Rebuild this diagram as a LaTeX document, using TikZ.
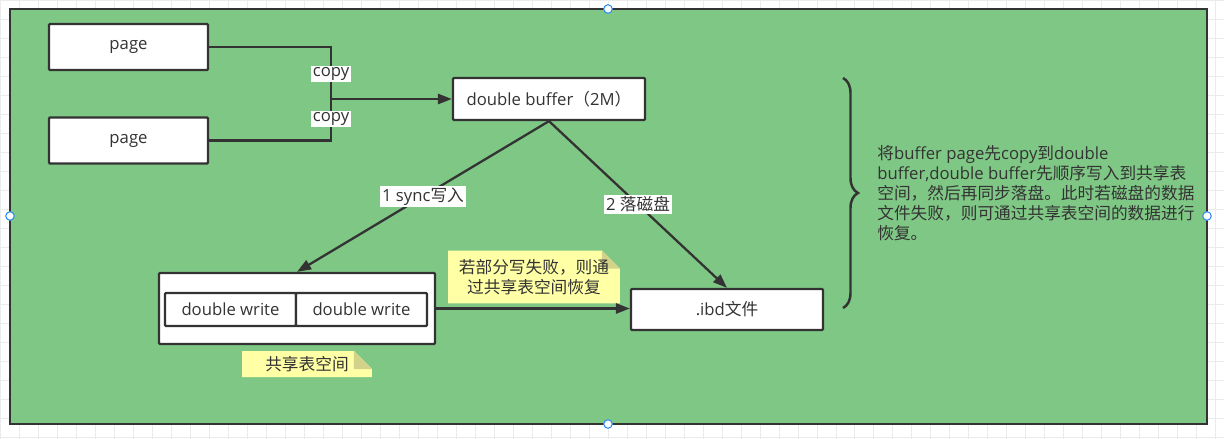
\documentclass[tikz,border=0pt]{standalone}
\usepackage{fontspec}
\setmainfont{Open Sans}
\newfontfamily\cjk{Noto Sans CJK SC}
\usetikzlibrary{arrows.meta,decorations.pathreplacing}
\definecolor{bggreen}{HTML}{7FC785}
\definecolor{ink}{HTML}{333333}
\definecolor{memoyellow}{HTML}{FFFFA6}
\definecolor{memofold}{HTML}{D2D28A}
\definecolor{gridgray}{HTML}{EBEBEB}
\definecolor{handleblue}{HTML}{2C8CF4}
\begin{document}
\begin{tikzpicture}[x=0.02cm, y=-0.02cm,
    box/.style={draw=ink, fill=white, line width=1.3pt, text=ink, inner sep=0pt,
        font=\fontsize{9.5}{12}\selectfont, rounded corners=0.6pt},
    lbl/.style={fill=white, text=ink, inner sep=1pt, font=\fontsize{9.5}{12}\selectfont},
    link/.style={draw=ink, line width=1.3pt},
    arr/.style={link, -{Triangle[length=8pt, width=5.8pt]}},
    handle/.style={draw=handleblue, fill=white, line width=0.6pt, circle, inner sep=0pt, minimum size=0.17cm},
    memo/.style={text=ink, align=center, inner sep=0pt, font=\cjk\fontsize{9.5}{11.3}\selectfont,
        path picture={
            \fill[memoyellow] (path picture bounding box.south west) -- (path picture bounding box.north west)
                -- ([xshift=-0.36cm]path picture bounding box.north east)
                -- ([yshift=-0.36cm]path picture bounding box.north east)
                -- (path picture bounding box.south east) -- cycle;
            \fill[memofold] ([xshift=-0.36cm]path picture bounding box.north east)
                -- ([yshift=-0.36cm]path picture bounding box.north east)
                -- ([xshift=-0.36cm, yshift=-0.36cm]path picture bounding box.north east) -- cycle;
        }}]
    \useasboundingbox (0,0) rectangle (1224,439);

    % canvas
    \draw[gridgray, step=0.38cm] (0,0) grid (1224,439);
    \draw[ink, fill=bggreen, line width=1.3pt] (10,9) rectangle (1207,424);

    % pages and buffer
    \node[box, minimum width=3.18cm, minimum height=0.92cm] (page1) at (128.5,47) {page};
    \node[box, minimum width=3.18cm, minimum height=0.92cm] (page2) at (128.5,140.5) {page};
    \node[box, minimum width=3.84cm, minimum height=0.84cm] (dbuf) at (549,99) {double buffer{\cjk（}2M{\cjk）}};
    \coordinate (join) at (331,99);

    % shared tablespace
    \node[box, minimum width=5.52cm, minimum height=1.42cm] (shared) at (297,308.5) {};
    \node[box, minimum width=2.62cm, minimum height=0.66cm] (dw1) at (230.5,309.5) {double write};
    \node[box, minimum width=2.62cm, minimum height=0.66cm] (dw2) at (361.5,309.5) {double write};
    \node[box, minimum width=3.84cm, minimum height=0.82cm] (ibd) at (727,309.5) {.ibd{\cjk 文件}};

    % notes
    \node[memo, minimum width=3.44cm, minimum height=1.06cm] (note1) at (534,277) {若部分写失败，则通\\过共享表空间恢复};
    \node[memo, minimum width=2.6cm, minimum height=0.52cm] (note2) at (307,364) {共享表空间};

    % connectors
    \draw[link] (page1.east) -| node[lbl, pos=0.76] {copy} (join);
    \draw[link] (page2.east) -| node[lbl, pos=0.76] {copy} (join);
    \draw[arr] (join) -- (dbuf.west);
    \draw[arr] (dbuf.south) -- node[lbl, pos=0.5] {1 sync{\cjk 写入}} (shared.north);
    \draw[arr] (dbuf.south) -- node[lbl, pos=0.5] {2 {\cjk 落磁盘}} (ibd.north);
    \draw[arr] (shared.east) -- (shared.east -| ibd.west);

    % brace and description
    \draw[ink, line width=1.4pt, decorate, decoration={brace, amplitude=0.3cm}] (843,78) -- (843,308);
    \node[anchor=west, align=left, text=ink, inner sep=0pt, font=\fontsize{9.5}{11.3}\selectfont] (desc) at (877,193)
        {{\cjk 将}buffer page{\cjk 先}copy{\cjk 到}double\\
         buffer,double buffer{\cjk 先顺序写入到共享表}\\
         {\cjk 空间，然后再同步落盘。此时若磁盘的数据}\\
         {\cjk 文件失败，则可通过共享表空间的数据进行}\\
         {\cjk 恢复。}};

    % selection handles
    \node[handle] (h1) at (608,9) {};
    \node[handle] (h2) at (10,216) {};
    \node[handle] (h3) at (1207,216) {};
    \node[handle] (h4) at (608,424) {};
\end{tikzpicture}
\end{document}
